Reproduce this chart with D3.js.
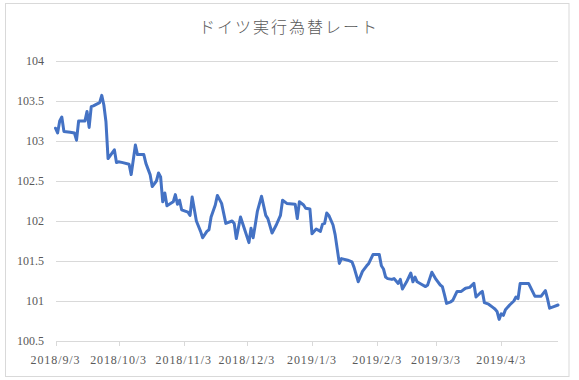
<!DOCTYPE html>
<html>
<head>
<meta charset="utf-8">
<script src="https://cdn.jsdelivr.net/npm/d3@7"></script>
<style>
  html, body { margin: 0; padding: 0; background: #fff; }
  svg { display: block; }
  .tick-label { font-family: "Liberation Serif", "DejaVu Serif", serif; font-size: 12px; fill: #595959; }
  .gridline { stroke: #d9d9d9; stroke-width: 1; shape-rendering: crispEdges; }
</style>
</head>
<body>
<div id="chart"></div>
<script>
// German effective exchange rate, daily, Sep 2018 - Apr 2019
const TITLE = "ドイツ実行為替レート";
const dates = [
  "2018-09-03","2018-09-04","2018-09-05","2018-09-06","2018-09-07","2018-09-10","2018-09-12","2018-09-13","2018-09-14",
  "2018-09-17","2018-09-18","2018-09-19","2018-09-20","2018-09-21","2018-09-24","2018-09-25","2018-09-26","2018-09-27","2018-09-28",
  "2018-10-01","2018-10-02","2018-10-03","2018-10-05","2018-10-08","2018-10-09","2018-10-11","2018-10-12","2018-10-15","2018-10-16",
  "2018-10-18","2018-10-19","2018-10-21","2018-10-22","2018-10-23","2018-10-24","2018-10-25","2018-10-26","2018-10-29","2018-10-30","2018-10-31",
  "2018-11-01","2018-11-02","2018-11-05","2018-11-06","2018-11-07","2018-11-09","2018-11-11","2018-11-12","2018-11-14","2018-11-15",
  "2018-11-16","2018-11-18","2018-11-19","2018-11-21","2018-11-23","2018-11-26","2018-11-27","2018-11-28","2018-11-30",
  "2018-12-02","2018-12-04","2018-12-05","2018-12-06","2018-12-07","2018-12-08","2018-12-10","2018-12-12","2018-12-13","2018-12-15",
  "2018-12-17","2018-12-19","2018-12-20","2018-12-22","2018-12-26","2018-12-27","2018-12-28","2018-12-30","2018-12-31",
  "2019-01-02","2019-01-03","2019-01-05","2019-01-07","2019-01-08","2019-01-09","2019-01-10","2019-01-11","2019-01-13","2019-01-14",
  "2019-01-16","2019-01-17","2019-01-20","2019-01-22","2019-01-23","2019-01-25","2019-01-27","2019-01-29","2019-01-30",
  "2019-02-01","2019-02-04","2019-02-05","2019-02-06","2019-02-07","2019-02-08","2019-02-10","2019-02-11","2019-02-13","2019-02-14",
  "2019-02-15","2019-02-17","2019-02-19","2019-02-20","2019-02-21","2019-02-22","2019-02-24","2019-02-26","2019-02-27",
  "2019-03-01","2019-03-03","2019-03-05","2019-03-06","2019-03-07","2019-03-08","2019-03-10","2019-03-11","2019-03-13","2019-03-15",
  "2019-03-17","2019-03-19","2019-03-21","2019-03-22","2019-03-24","2019-03-25","2019-03-26","2019-03-28","2019-03-30","2019-03-31",
  "2019-04-01","2019-04-02","2019-04-03","2019-04-04","2019-04-05","2019-04-07","2019-04-09","2019-04-10","2019-04-11","2019-04-12",
  "2019-04-14","2019-04-16","2019-04-19","2019-04-22","2019-04-24","2019-04-25","2019-04-26","2019-04-28","2019-04-30"
];
const values = [
  103.16,103.10,103.25,103.30,103.12,103.11,103.10,103.01,103.25,
  103.25,103.37,103.17,103.43,103.44,103.48,103.57,103.45,103.24,102.78,
  102.89,102.73,102.74,102.73,102.71,102.58,102.95,102.83,102.83,102.72,
  102.58,102.43,102.50,102.60,102.55,102.24,102.35,102.19,102.24,102.33,102.21,
  102.26,102.14,102.11,102.07,102.30,102.00,101.87,101.79,101.87,101.89,
  102.05,102.20,102.32,102.22,101.97,102.00,101.97,101.78,102.05,
  101.89,101.73,101.91,101.79,101.95,102.12,102.31,102.07,102.03,101.85,
  101.95,102.07,102.26,102.22,102.21,102.03,102.24,102.20,102.16,
  102.15,101.84,101.90,101.87,101.96,101.97,102.10,102.07,101.95,101.83,
  101.47,101.53,101.51,101.49,101.42,101.24,101.37,101.44,101.47,
  101.58,101.58,101.44,101.40,101.30,101.28,101.27,101.28,101.22,101.27,
  101.15,101.24,101.35,101.24,101.30,101.24,101.21,101.18,101.20,
  101.36,101.27,101.20,101.18,101.08,100.97,100.99,101.01,101.12,101.12,
  101.16,101.17,101.22,101.05,101.10,101.12,100.98,100.96,100.92,100.90,
  100.87,100.77,100.84,100.82,100.89,100.95,101.00,101.05,101.03,101.22,
  101.22,101.22,101.06,101.06,101.13,101.03,100.91,100.93,100.95
];
const xTickLabels = ["2018/9/3","2018/10/3","2018/11/3","2018/12/3","2019/1/3","2019/2/3","2019/3/3","2019/4/3"];
const yTicks = [100.5, 101, 101.5, 102, 102.5, 103, 103.5, 104];

const W = 579, H = 380;
const plot = { left: 55.5, right: 558, top: 61, bottom: 341 };

const parseIso = d3.timeParse("%Y-%m-%d");
const parseTick = d3.timeParse("%Y/%m/%d");
const pts = dates.map((d, i) => ({ t: parseIso(d), v: values[i] }));
const tickDates = xTickLabels.map(parseTick);

const x = d3.scaleTime([pts[0].t, pts[pts.length - 1].t], [plot.left, plot.right]);
const y = d3.scaleLinear([100.5, 104], [plot.bottom, plot.top]);

const svg = d3.select("#chart").append("svg").attr("width", W).attr("height", H);

// outer chart frame
svg.append("rect").attr("x", 5.5).attr("y", 3.5).attr("width", 563.5).attr("height", 373)
  .attr("fill", "#fff").attr("stroke", "#d9d9d9").attr("stroke-width", 1);

svg.append("text").attr("x", 289).attr("y", 33).attr("text-anchor", "middle")
  .style("font-family", '"Noto Sans CJK JP", sans-serif').style("font-weight", 300)
  .style("font-size", "16px").style("letter-spacing", "2px").style("fill", "#595959")
  .text(TITLE);

// horizontal gridlines
svg.append("g").selectAll("line").data(yTicks).join("line").attr("class", "gridline")
  .attr("x1", plot.left).attr("x2", plot.right)
  .attr("y1", (d) => Math.round(y(d)) + 0.5).attr("y2", (d) => Math.round(y(d)) + 0.5);

// y labels
svg.append("g").selectAll("text").data(yTicks).join("text").attr("class", "tick-label")
  .attr("x", 44).attr("y", (d) => y(d)).attr("dy", "0.35em").attr("text-anchor", "end")
  .text((d) => d);

// x tick marks and labels
svg.append("g").selectAll("line").data(tickDates).join("line").attr("class", "gridline")
  .attr("x1", (d) => Math.round(x(d)) + 0.5).attr("x2", (d) => Math.round(x(d)) + 0.5)
  .attr("y1", plot.bottom).attr("y2", plot.bottom + 5);
svg.append("g").selectAll("text").data(tickDates).join("text").attr("class", "tick-label")
  .attr("x", (d) => x(d)).attr("y", 364).attr("text-anchor", "middle")
  .style("letter-spacing", "0.9px")
  .text((d, i) => xTickLabels[i]);

const line = d3.line().x((p) => x(p.t)).y((p) => y(p.v));
svg.append("path").datum(pts).attr("d", line)
  .attr("fill", "none").attr("stroke", "#4472c4").attr("stroke-width", 3)
  .attr("stroke-linejoin", "round").attr("stroke-linecap", "round");
</script>
</body>
</html>
